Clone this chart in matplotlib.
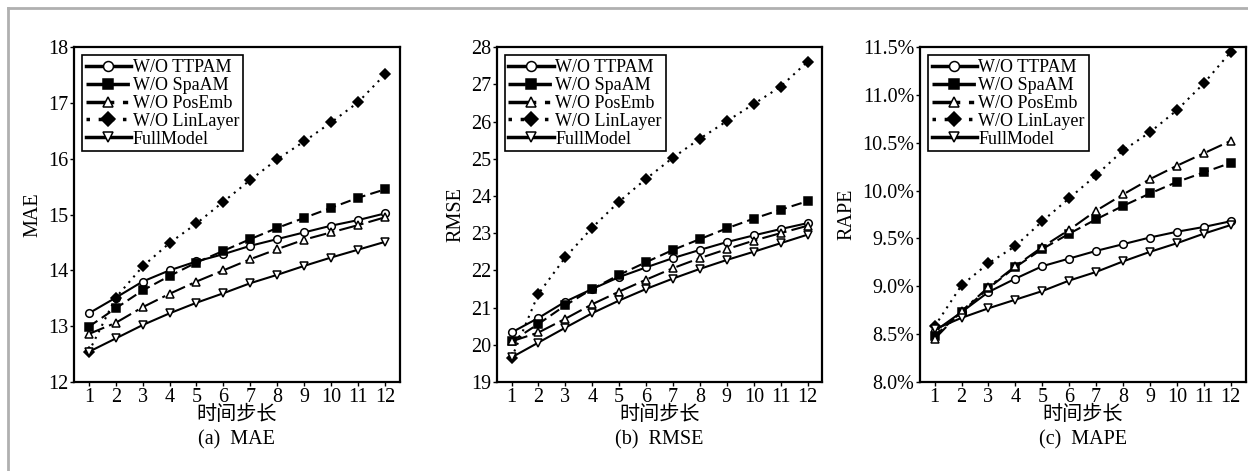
import numpy as np
import matplotlib
matplotlib.use("Agg")
import matplotlib.pyplot as plt
from matplotlib.lines import Line2D
from matplotlib.ticker import FuncFormatter

plt.rcParams['font.family'] = ['Liberation Serif', 'Noto Sans CJK SC']
plt.rcParams['mathtext.fontset'] = 'stix'

steps = list(range(1, 13))
names = ['W/O TTPAM', 'W/O SpaAM', 'W/O PosEmb', 'W/O LinLayer', 'FullModel']

mae_ttpam = [13.23, 13.51, 13.80, 14.00, 14.16, 14.29, 14.44, 14.56, 14.68, 14.80, 14.90, 15.02]
mae_spaam = [12.99, 13.32, 13.64, 13.90, 14.14, 14.35, 14.56, 14.76, 14.94, 15.12, 15.30, 15.45]
mae_posemb = [12.86, 13.06, 13.34, 13.58, 13.80, 14.00, 14.20, 14.38, 14.55, 14.68, 14.81, 14.95]
mae_linlayer = [12.54, 13.51, 14.07, 14.49, 14.84, 15.23, 15.62, 15.99, 16.31, 16.65, 17.01, 17.51]
mae_full = [12.54, 12.78, 13.02, 13.23, 13.42, 13.59, 13.77, 13.92, 14.08, 14.23, 14.37, 14.51]

rmse_ttpam = [20.33, 20.72, 21.16, 21.50, 21.82, 22.08, 22.33, 22.55, 22.76, 22.94, 23.11, 23.27]
rmse_spaam = [20.09, 20.56, 21.06, 21.50, 21.88, 22.22, 22.55, 22.84, 23.13, 23.39, 23.63, 23.86]
rmse_posemb = [20.09, 20.33, 20.70, 21.09, 21.43, 21.75, 22.06, 22.33, 22.57, 22.80, 23.00, 23.20]
rmse_linlayer = [19.64, 21.37, 22.35, 23.15, 23.85, 24.46, 25.03, 25.54, 26.01, 26.47, 26.94, 27.61]
rmse_full = [19.66, 20.06, 20.46, 20.85, 21.19, 21.50, 21.78, 22.04, 22.28, 22.50, 22.73, 22.96]

mape_ttpam = [8.53, 8.73, 8.94, 9.08, 9.21, 9.29, 9.37, 9.44, 9.51, 9.57, 9.62, 9.68]
mape_spaam = [8.48, 8.73, 8.98, 9.20, 9.39, 9.55, 9.70, 9.84, 9.97, 10.09, 10.19, 10.29]
mape_posemb = [8.45, 8.74, 8.99, 9.21, 9.41, 9.59, 9.79, 9.96, 10.12, 10.26, 10.39, 10.52]
mape_linlayer = [8.58, 9.01, 9.24, 9.42, 9.68, 9.92, 10.16, 10.42, 10.61, 10.84, 11.12, 11.45]
mape_full = [8.55, 8.67, 8.77, 8.86, 8.95, 9.06, 9.15, 9.26, 9.36, 9.45, 9.55, 9.64]

styles = [
    dict(linestyle='-', marker='o', mfc='white'),
    dict(linestyle=(0, (5, 2.5)), marker='s', mfc='black'),
    dict(linestyle=(0, (8, 2.5, 1.5, 2.5)), marker='^', mfc='white'),
    dict(linestyle=(0, (1, 2.5)), marker='D', mfc='black'),
    dict(linestyle='-', marker='v', mfc='white'),
]

panels = [
    ('MAE', '(a)  MAE', [mae_ttpam, mae_spaam, mae_posemb, mae_linlayer, mae_full], (12, 18), [12, 13, 14, 15, 16, 17, 18], None),
    ('RMSE', '(b)  RMSE', [rmse_ttpam, rmse_spaam, rmse_posemb, rmse_linlayer, rmse_full], (19, 28), list(range(19, 29)), None),
    ('RAPE', '(c)  MAPE', [mape_ttpam, mape_spaam, mape_posemb, mape_linlayer, mape_full], (8.0, 11.5), [8.0, 8.5, 9.0, 9.5, 10.0, 10.5, 11.0, 11.5], '%'),
]

fig = plt.figure(figsize=(12.48, 4.71), dpi=100)
# light grey frame lines at top and left of the picture
fig.add_artist(Line2D([0.0065, 0.0065], [0, 0.983], color='#b0b0b0', lw=2, transform=fig.transFigure))
fig.add_artist(Line2D([0.0065, 1.0], [0.983, 0.983], color='#b0b0b0', lw=2, transform=fig.transFigure))

lefts = [0.0593, 0.398, 0.737]
for left, (ylab, cap, series, ylim, yticks, fmt) in zip(lefts, panels):
    ax = fig.add_axes([left, 0.189, 0.261, 0.711])
    for vals, st, name in zip(series, styles, names):
        ax.plot(steps, vals, color='black', lw=1.5, ms=5.5, mec='black', mew=1.1,
                label=name, **st)
    ax.set_xlim(0.45, 12.55)
    ax.set_ylim(*ylim)
    ax.set_xticks(steps)
    ax.set_yticks(yticks)
    if fmt:
        ax.yaxis.set_major_formatter(FuncFormatter(lambda v, p: '%.1f%%' % v))
    ax.tick_params(labelsize=14.5, length=3, width=1, direction='out', pad=1)
    for s in ax.spines.values():
        s.set_linewidth(1.6)
    ax.set_ylabel(ylab, fontsize=14.5, labelpad=4)
    ax.set_xlabel('时间步长', fontsize=14.5, labelpad=-0.5)
    ax.text(0.5, -0.172, cap, transform=ax.transAxes, ha='center', va='center', fontsize=14.5)
    leg = ax.legend(loc='upper left', bbox_to_anchor=(0.025, 0.975), fontsize=13,
                    handlelength=2.5, handletextpad=0.1, labelspacing=0.05,
                    borderpad=0.2, borderaxespad=0.0, fancybox=False,
                    edgecolor='black', framealpha=1, markerscale=1.3)
    leg.get_frame().set_linewidth(1.2)
    for h in leg.get_lines():
        h.set_linewidth(2.5)

fig.savefig('out.png', dpi=100)
